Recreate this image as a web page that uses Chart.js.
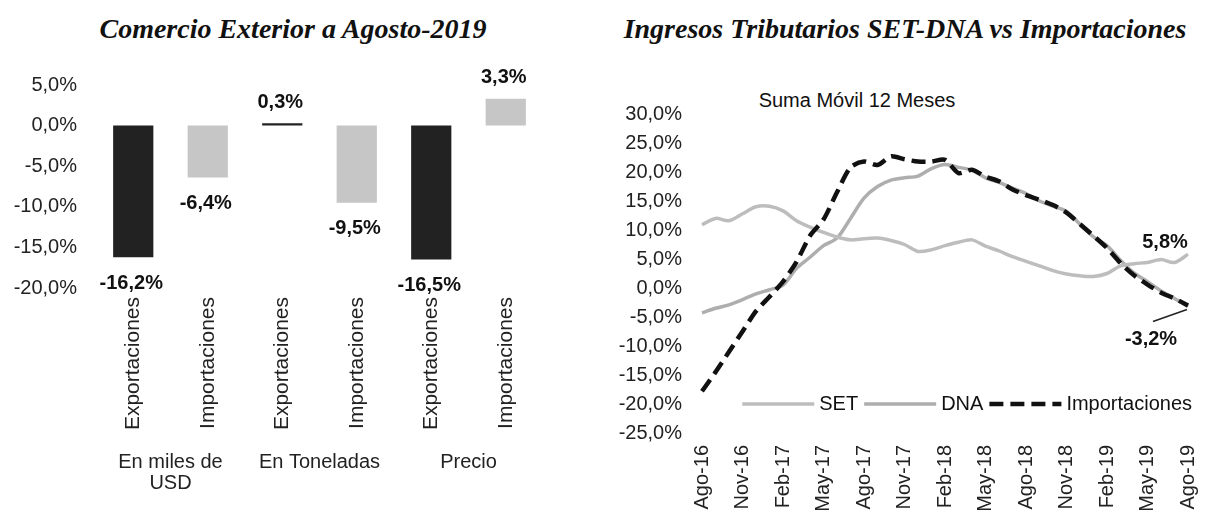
<!DOCTYPE html>
<html lang="es">
<head>
<meta charset="utf-8">
<script src="https://cdn.jsdelivr.net/npm/chart.js@4.4.0/dist/chart.umd.min.js"></script>
<style>
  body { margin: 0; background: #fff; width: 1210px; height: 517px; overflow: hidden; position: relative; }
  .titulo {
    position: absolute; top: 13px; transform: translateX(-50%); white-space: nowrap;
    font-family: "Liberation Serif", "Times New Roman", serif; font-weight: bold; font-style: italic;
    font-size: 28px; line-height: 32px; color: #111;
  }
  .subtitulo {
    position: absolute; top: 88px; transform: translateX(-50%); white-space: nowrap;
    font-family: "Liberation Sans", Arial, sans-serif; font-size: 20px; line-height: 24px; color: #111;
  }
  #caixaBarras { position: absolute; left: 0; top: 0; width: 590px; height: 517px; }
  #caixaLinhas { position: absolute; left: 590px; top: 0; width: 620px; height: 517px; }
</style>
</head>
<body>
<div class="titulo" style="left:293px">Comercio Exterior a Agosto-2019</div>
<div class="titulo" style="left:905px">Ingresos Tributarios SET-DNA vs Importaciones</div>
<div class="subtitulo" style="left:857px">Suma Móvil 12 Meses</div>
<div id="caixaBarras"><canvas id="graficoBarras"></canvas></div>
<div id="caixaLinhas"><canvas id="graficoLinhas"></canvas></div>

<script>
// --- Comercio exterior (barras) ---
const categoriasBarras = ['Exportaciones', 'Importaciones', 'Exportaciones', 'Importaciones', 'Exportaciones', 'Importaciones'];
const gruposBarras = [['En miles de', 'USD'], 'En Toneladas', 'Precio'];
const variacionesBarras = [-16.2, -6.4, 0.3, -9.5, -16.5, 3.3];
const ticksBarras = { min: -20, max: 5, paso: 5 };

// --- Ingresos tributarios vs importaciones (líneas, suma móvil 12 meses) ---
const meses = [
  'Ago-16', 'Sep-16', 'Oct-16', 'Nov-16', 'Dic-16', 'Ene-17', 'Feb-17', 'Mar-17', 'Abr-17', 'May-17',
  'Jun-17', 'Jul-17', 'Ago-17', 'Sep-17', 'Oct-17', 'Nov-17', 'Dic-17', 'Ene-18', 'Feb-18', 'Mar-18',
  'Abr-18', 'May-18', 'Jun-18', 'Jul-18', 'Ago-18', 'Sep-18', 'Oct-18', 'Nov-18', 'Dic-18', 'Ene-19',
  'Feb-19', 'Mar-19', 'Abr-19', 'May-19', 'Jun-19', 'Jul-19', 'Ago-19'
];
const ingresosSET = [
  10.9, 12.0, 11.6, 12.8, 14.0, 14.1, 13.3, 11.6, 10.5, 9.6,
  8.8, 8.3, 8.5, 8.6, 8.2, 7.5, 6.3, 6.6, 7.3, 7.9,
  8.3, 7.2, 6.4, 5.4, 4.6, 3.8, 3.0, 2.4, 2.1, 2.0,
  2.5, 3.8, 4.2, 4.4, 4.9, 4.4, 5.8
];
const ingresosDNA = [
  -4.3, -3.5, -2.9, -2.0, -1.0, -0.3, 0.5, 3.4, 5.3, 7.3,
  8.6, 12.0, 15.5, 17.5, 18.6, 19.0, 19.3, 20.6, 21.3, 20.8,
  20.3, 19.0, 18.2, 17.2, 16.3, 15.0, 14.1, 13.2, 11.0, 8.8,
  7.3, 4.8, 2.6, 1.1, -0.5, -1.8, -3.2
];
const importaciones = [
  -17.8, -14.5, -11.0, -7.5, -4.0, -1.5, 1.1, 4.5, 9.0, 11.8,
  16.5, 20.8, 21.8, 21.2, 22.7, 22.2, 21.8, 21.8, 22.1, 19.8,
  20.4, 19.2, 18.4, 17.0, 16.0, 15.2, 14.3, 13.0, 11.0, 9.0,
  6.9, 4.3, 2.2, 0.6, -0.8, -1.8, -3.0
];
const ticksLineas = { min: -25, max: 30, paso: 5 };

const fuente = '"Liberation Sans", Arial, sans-serif';
const formatoPct = v => v.toFixed(1).replace('.', ',') + '%';

// rótulos de valor sobre/bajo cada barra
const rotulosBarras = {
  id: 'rotulosBarras',
  afterDatasetsDraw(chart) {
    const ctx = chart.ctx;
    const meta = chart.getDatasetMeta(0);
    ctx.save();
    ctx.font = 'bold 20px ' + fuente;
    ctx.fillStyle = '#111';
    ctx.textAlign = 'center';
    ctx.textBaseline = 'middle';
    meta.data.forEach((barra, i) => {
      const v = variacionesBarras[i];
      const y = v < 0 ? barra.y + 26 : barra.y - 21;
      ctx.fillText(formatoPct(v), barra.x - 2, y);
    });
    ctx.restore();
  }
};

new Chart(document.getElementById('graficoBarras'), {
  type: 'bar',
  data: {
    labels: categoriasBarras,
    datasets: [{
      data: variacionesBarras,
      backgroundColor: categoriasBarras.map(c => c === 'Exportaciones' ? '#222222' : '#c6c6c6'),
      barPercentage: 0.54,
      categoryPercentage: 1
    }]
  },
  options: {
    responsive: true,
    maintainAspectRatio: false,
    animation: false,
    layout: { padding: { top: 85, right: 47, left: 0, bottom: 0 } },
    plugins: { legend: { display: false }, tooltip: { enabled: false } },
    scales: {
      y: {
        min: ticksBarras.min, max: ticksBarras.max,
        grid: { display: false, drawTicks: false }, border: { display: false },
        ticks: { stepSize: ticksBarras.paso, padding: 19, color: '#222', font: { family: fuente, size: 20 }, callback: v => formatoPct(v) },
        afterFit: s => { s.width = 96; }
      },
      x: {
        grid: { display: false, drawTicks: false }, border: { display: false },
        ticks: { minRotation: 90, maxRotation: 90, padding: 9, color: '#222', font: { family: fuente, size: 21 } },
        afterFit: s => { s.height = 150; }
      },
      x2: {
        type: 'category', labels: gruposBarras, position: 'bottom', offset: true,
        grid: { display: false, drawTicks: false }, border: { display: false },
        ticks: { padding: 14, color: '#222', font: { family: fuente, size: 20, lineHeight: 1.05 } },
        afterFit: s => { s.height = 79; }
      }
    }
  },
  plugins: [rotulosBarras]
});

// leyenda dentro del área y rótulos finales
const leyendaLineas = {
  id: 'leyendaLineas',
  afterDraw(chart) {
    const ctx = chart.ctx;
    const area = chart.chartArea;
    const yScale = chart.scales.y;
    const n = meses.length - 1;
    ctx.save();
    ctx.font = '20px ' + fuente;
    ctx.textBaseline = 'middle';
    const yLey = yScale.getPixelForValue(-20);
    const items = chart.data.datasets.slice().sort((a, b) => a.ordenLeyenda - b.ordenLeyenda);
    const muestra = 72;
    let ancho = 0;
    items.forEach(d => { ancho += muestra + 5 + ctx.measureText(d.label).width + 6; });
    let x = area.right + 10 - ancho;
    items.forEach(d => {
      ctx.beginPath();
      ctx.strokeStyle = d.borderColor;
      ctx.lineWidth = d.borderWidth;
      ctx.setLineDash(d.borderDash || []);
      ctx.moveTo(x, yLey);
      ctx.lineTo(x + muestra, yLey);
      ctx.stroke();
      ctx.setLineDash([]);
      ctx.fillStyle = '#111';
      ctx.fillText(d.label, x + muestra + 5, yLey);
      x += muestra + 5 + ctx.measureText(d.label).width + 6;
    });

    // rótulos del último mes
    ctx.font = 'bold 20px ' + fuente;
    const pSET = chart.getDatasetMeta(1).data[n];
    const pDNA = chart.getDatasetMeta(2).data[n];
    ctx.textAlign = 'center';
    ctx.fillText(formatoPct(ingresosSET[n]), pSET.x - 23, pSET.y - 12);
    ctx.fillText(formatoPct(ingresosDNA[n]), pDNA.x - 37, pDNA.y + 33);
    ctx.beginPath();
    ctx.strokeStyle = '#222';
    ctx.lineWidth = 1.5;
    ctx.moveTo(pDNA.x - 1, pDNA.y + 3);
    ctx.lineTo(pDNA.x - 35, pDNA.y + 15);
    ctx.stroke();
    ctx.restore();
  }
};

new Chart(document.getElementById('graficoLinhas'), {
  type: 'line',
  data: {
    labels: meses,
    datasets: [
      { label: 'Importaciones', data: importaciones, borderColor: '#111', borderWidth: 4.5, borderDash: [14, 7], pointRadius: 0, tension: 0.25, order: 0, ordenLeyenda: 3 },
      { label: 'SET', data: ingresosSET, borderColor: '#bdbdbd', borderWidth: 3.5, pointRadius: 0, tension: 0.3, order: 1, ordenLeyenda: 1 },
      { label: 'DNA', data: ingresosDNA, borderColor: '#aeaeae', borderWidth: 3.5, pointRadius: 0, tension: 0.3, order: 2, ordenLeyenda: 2 }
    ]
  },
  options: {
    responsive: true,
    maintainAspectRatio: false,
    animation: false,
    layout: { padding: { top: 114, right: 22, left: 0, bottom: 0 } },
    plugins: { legend: { display: false }, tooltip: { enabled: false } },
    scales: {
      y: {
        min: ticksLineas.min, max: ticksLineas.max,
        grid: { display: false, drawTicks: false }, border: { display: false },
        ticks: { stepSize: ticksLineas.paso, padding: 20, color: '#222', font: { family: fuente, size: 20 }, callback: v => formatoPct(v) },
        afterFit: s => { s.width = 112; }
      },
      x: {
        grid: { display: false, drawTicks: false }, border: { display: false },
        ticks: {
          autoSkip: false, minRotation: 90, maxRotation: 90, padding: 12, color: '#222',
          font: { family: fuente, size: 20 },
          callback: (v, i) => i % 3 === 0 ? meses[i] : ''
        },
        afterFit: s => { s.height = 84; s.paddingLeft = 0; s.paddingRight = 0; }
      }
    }
  },
  plugins: [leyendaLineas]
});
</script>
</body>
</html>
